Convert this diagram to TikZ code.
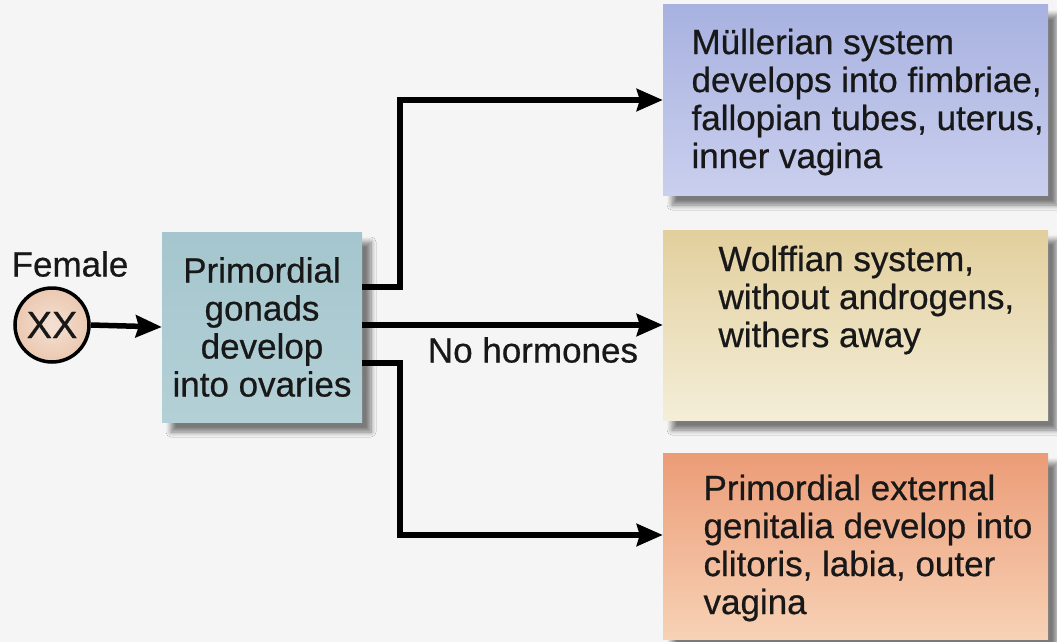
\documentclass[tikz,border=0pt]{standalone}
\usepackage{fontspec}
\setmainfont{Liberation Sans}[FakeBold=0.6]
\usetikzlibrary{arrows.meta,shadows.blur,calc}
\definecolor{bgc}{HTML}{F5F5F5}
\definecolor{gonc}{HTML}{A5C6CE}
\definecolor{gonc2}{HTML}{B3D0D6}
\definecolor{xxc}{HTML}{EBC8B0}
\definecolor{mulA}{HTML}{A8B2E0}
\definecolor{mulB}{HTML}{CACFEE}
\definecolor{wolA}{HTML}{E2CF9D}
\definecolor{wolB}{HTML}{F4EED8}
\definecolor{extA}{HTML}{EC9C77}
\definecolor{extB}{HTML}{F7D2B6}
\definecolor{txt}{HTML}{181818}
\tikzset{
  bigfont/.style={font=\fontsize{35}{38}\selectfont, text=txt},
  boxshape/.style={rectangle, draw=none, inner sep=0pt,
    blur shadow={shadow xshift=9pt, shadow yshift=-10pt, shadow blur steps=8, shadow blur radius=5pt, shadow opacity=50}},
  arr/.style={line width=5.5pt, -{Stealth[length=26pt,width=22pt,inset=3pt]}, line join=miter},
}
\begin{document}
\begin{tikzpicture}[x=1pt,y=-1pt]
\fill[bgc] (0,0) rectangle (1057,642);
\useasboundingbox (0,0) rectangle (1057,642);

% female / XX
\node[bigfont] (fem) at (70,264) {Female};
\node[circle, draw=black, line width=3.5pt, inner sep=0pt, minimum size=74pt,
      inner color=xxc!55, outer color=xxc, bigfont, font=\fontsize{38}{38}\selectfont] (xx) at (52,325) {XX};

% central box
\node[boxshape, minimum width=200pt, minimum height=190pt, top color=gonc, bottom color=gonc2] (gon) at (262,327) {};
\node[bigfont, align=center] (gont) at (262,327) {Primordial\\gonads\\develop\\into ovaries};

% right boxes
\node[boxshape, minimum width=385pt, minimum height=190pt, top color=mulA, bottom color=mulB] (mul) at (855.5,100) {};
\node[bigfont, align=left, anchor=west] (mult) at (688,102) {Müllerian system\\develops into fimbriae,\\fallopian tubes, uterus,\\inner vagina};

\node[boxshape, minimum width=385pt, minimum height=190pt, top color=wolA, bottom color=wolB] (wol) at (855.5,325) {};
\node[bigfont, align=left, anchor=west] (wolt) at (715,300) {Wolffian system,\\without androgens,\\withers away};

\node[boxshape, minimum width=385pt, minimum height=186pt, top color=extA, bottom color=extB] (ext) at (855.5,546) {};
\node[bigfont, align=left, anchor=west] (extt) at (700,548) {Primordial external\\genitalia develop into\\clitoris, labia, outer\\vagina};

% connectors
\coordinate (e1) at (gon.east |- 0,287);
\coordinate (e2) at (gon.east |- wol.west);
\coordinate (e3) at (gon.east |- 0,363);
\coordinate (j1) at (400,287);
\coordinate (j3) at (400,363);
\coordinate (t3) at (ext.west |- 0,535);

\draw[arr] (xx.east) -- (gon.west);
\draw[arr] (e1) -- (j1) |- (mul.west);
\draw[arr] (e2) -- (wol.west);
\draw[arr] (e3) -- (j3) |- (t3);

\node[bigfont] (noh) at (533,350) {No hormones};
\end{tikzpicture}
\end{document}
